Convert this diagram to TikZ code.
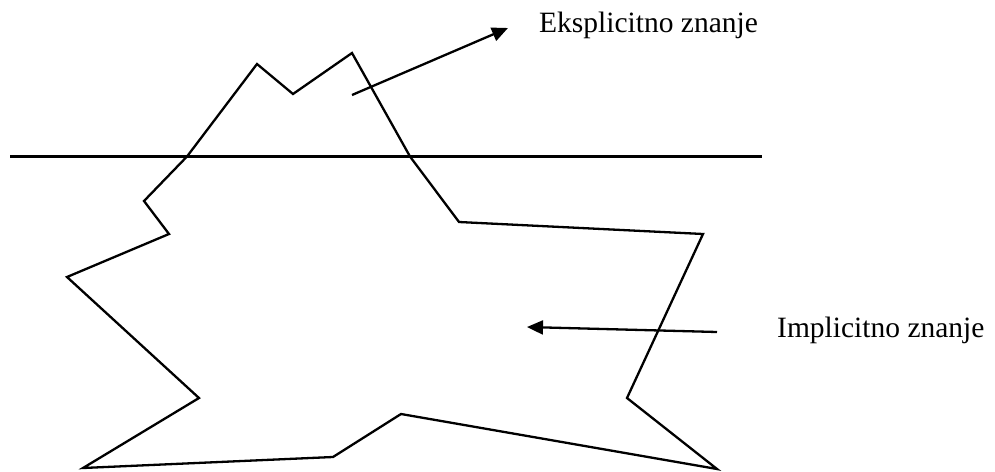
\documentclass[tikz,border=0pt]{standalone}
\usepackage{fontspec}
\setmainfont{Liberation Serif}
\usetikzlibrary{arrows.meta}
\begin{document}
\begin{tikzpicture}[x=1pt,y=-1pt,
  edge/.style={line width=2.3pt,line join=miter},
  pointer/.style={line width=2.3pt,-{Triangle[length=16pt,width=14pt]}},
  lbl/.style={inner sep=0pt,anchor=base west,font=\fontsize{29.5pt}{32pt}\selectfont}]
\useasboundingbox (0,0) rectangle (995,471);
% water line
\coordinate (wl) at (10,156.5);
\coordinate (wr) at (762,156.5);
\draw[edge] (wl) -- (wr);
% iceberg, above the water
\draw[edge] (187,156.5) -- (257,64) -- (293,94) -- (352,53) -- (410,156.5);
% iceberg, below the water
\draw[edge] (410,156.5) -- (459,222) -- (703,234) -- (627,398) -- (717,469)
  -- (401,414) -- (333,457) -- (83,468) -- (199,398) -- (67,277)
  -- (169,234) -- (144,201) -- (187,156.5);
% labels
\node[lbl] (eks) at (539,32) {Eksplicitno znanje};
\node[lbl] (imp) at (777,337) {Implicitno znanje};
% arrows
\coordinate (et) at (352,95);
\coordinate (eh) at (508,28);
\draw[pointer] (et) -- (eh);
\coordinate (it) at (717,332);
\coordinate (ih) at (527,327);
\draw[pointer] (it) -- (ih);
\end{tikzpicture}
\end{document}
